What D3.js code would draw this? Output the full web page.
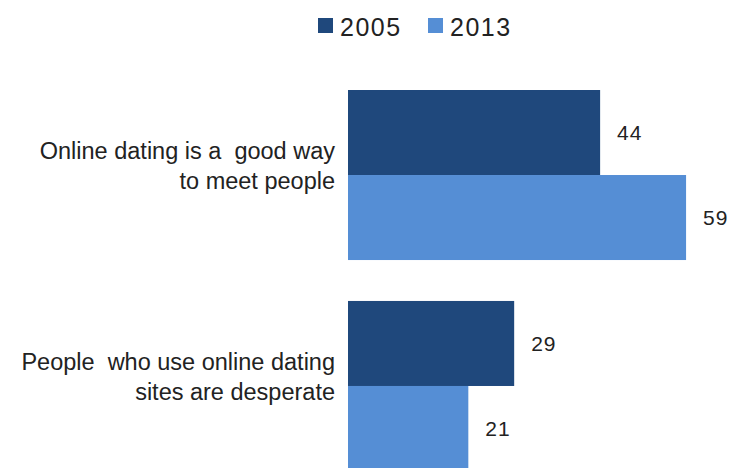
<!DOCTYPE html>
<html>
<head>
<meta charset="utf-8">
<script src="https://cdn.jsdelivr.net/npm/d3@7"></script>
<style>
  body { margin: 0; background: #fff; }
  svg { display: block; }
</style>
</head>
<body>
<svg id="chart" width="732" height="468"></svg>
<script>
// Data ------------------------------------------------------------------------

var categories = [
    ["Online dating is a  good way", "to meet people"],
    ["People  who use online dating", "sites are desperate"]
];
var seriesNames = ["2005", "2013"];
var values2005 = [44, 29];
var values2013 = [59, 21];
var colors = ["#1f487c", "#558ed5"];

// Chart -----------------------------------------------------------------------

var svg = d3.select("#chart");
var labelFont = "'Liberation Sans', Arial, sans-serif";
var numFont = "'Liberation Sans', Arial, sans-serif";

var catIds = categories.map(function (d, i) { return i; });

var y0 = d3.scaleBand()
    .domain(catIds)
    .range([90, 471])
    .paddingInner(0.194)
    .paddingOuter(0);

var y1 = d3.scaleBand()
    .domain(seriesNames)
    .range([0, y0.bandwidth()]);

var x = d3.scaleLinear()
    .domain([0, 100])
    .range([348, 921]);

var rows = [];
catIds.forEach(function (c) {
    rows.push({ cat: c, series: "2005", value: values2005[c], color: colors[0] });
    rows.push({ cat: c, series: "2013", value: values2013[c], color: colors[1] });
});

svg.append("g")
    .selectAll("rect")
    .data(rows)
    .enter()
    .append("rect")
    .attr("x", x(0))
    .attr("y", function (d) { return y0(d.cat) + y1(d.series); })
    .attr("width", function (d) { return x(d.value) - x(0); })
    .attr("height", y1.bandwidth())
    .attr("fill", function (d) { return d.color; });

// value labels
svg.append("g")
    .selectAll("text")
    .data(rows)
    .enter()
    .append("text")
    .attr("x", function (d) { return x(d.value) + 17; })
    .attr("y", function (d) { return y0(d.cat) + y1(d.series) + y1.bandwidth() / 2; })
    .attr("dy", "0.35em")
    .style("font-family", numFont)
    .style("font-size", "21px")
    .style("letter-spacing", "1px")
    .style("fill", "#222")
    .text(function (d) { return d.value; });

// category labels
var catLabel = svg.append("g")
    .selectAll("text")
    .data(catIds)
    .enter()
    .append("text")
    .attr("text-anchor", "end")
    .attr("x", 335)
    .attr("y", function (c) { return y0(c) + y0.bandwidth() / 2 - 8; })
    .style("font-family", labelFont)
    .style("font-size", "23.5px")
    .style("white-space", "pre")
    .style("fill", "#222");

catLabel.each(function (c) {
    var t = d3.select(this);
    var lines = categories[c];
    lines.forEach(function (line, i) {
        t.append("tspan")
            .attr("x", 335)
            .attr("dy", i == 0 ? (-(lines.length - 1) * 15 + 7) + "px" : "30px")
            .text(line);
    });
});

// legend
var legend = svg.append("g");
var legendX = [318, 428];
seriesNames.forEach(function (s, i) {
    legend.append("rect")
        .attr("x", legendX[i])
        .attr("y", 18)
        .attr("width", 15)
        .attr("height", 15)
        .attr("fill", colors[i]);
    legend.append("text")
        .attr("x", legendX[i] + 22)
        .attr("y", 36)
        .style("font-family", numFont)
        .style("font-size", "25px")
        .style("letter-spacing", "1.5px")
        .style("fill", "#222")
        .text(s);
});
</script>
</body>
</html>
